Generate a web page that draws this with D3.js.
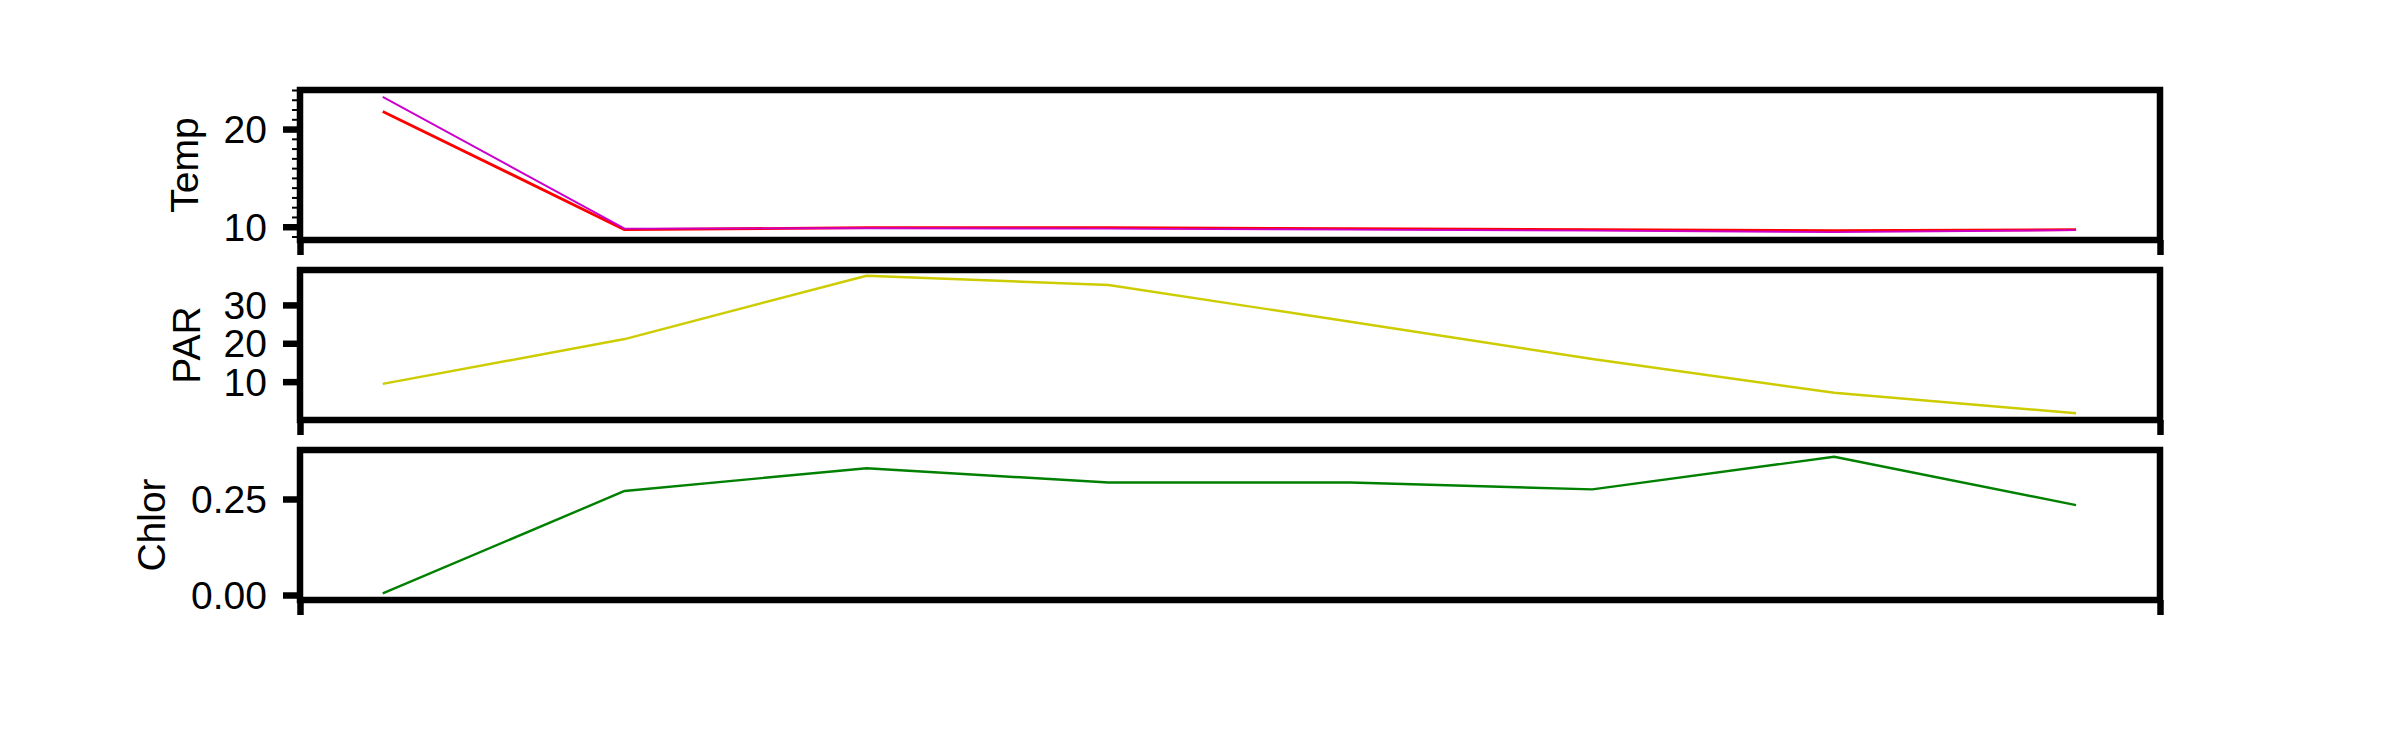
<!DOCTYPE html>
<html>
<head>
<meta charset="utf-8">
<script src="https://cdn.jsdelivr.net/npm/d3@7"></script>
<style>
  html, body { margin: 0; padding: 0; background: #fff; }
  svg { display: block; }
  text { font-family: "Liberation Sans", Arial, sans-serif; fill: #000; }
</style>
</head>
<body>
<svg id="chart" width="2400" height="750"></svg>
<script>
// ---- data ----
const stations = [1, 2, 3, 4, 5, 6, 7, 8];
const tempA = [21.8, 9.7, 9.9, 9.9, 9.8, 9.7, 9.6, 9.7];     // red
const tempB = [23.3, 9.8, 9.85, 9.8, 9.7, 9.6, 9.45, 9.65];  // magenta
const par = [9.4, 21.1, 37.6, 35.2, 25.6, 15.9, 7.1, 1.75];
const chlor = [0.004, 0.271, 0.33, 0.293, 0.293, 0.275, 0.36, 0.234];
const tempTicks = [10, 20];
const tempMinorTicks = [9, 11, 12, 13, 14, 15, 16, 17, 18, 19, 21, 22, 23, 24];
const parTicks = [10, 20, 30];
const chlorTicks = [0.00, 0.25];
const chlorTickLabels = ["0.00", "0.25"];

// ---- layout ----
const svg = d3.select("#chart");
const left = 300, right = 2160;
const x = d3.scaleLinear().domain([0.658, 8.347]).range([left, right]);

const panels = [
  { top: 90, bottom: 240, domain: [8.64, 24.0], label: "Temp", labelX: 198,
    ticks: tempTicks, fmt: d => String(d), minor: tempMinorTicks,
    series: [{ v: tempA, color: "#ff0000", w: 2.8 }, { v: tempB, color: "#cc00cc", w: 1.9 }] },
  { top: 270, bottom: 420, domain: [0, 39.1], label: "PAR", labelX: 200,
    ticks: parTicks, fmt: d => String(d), minor: null,
    series: [{ v: par, color: "#cccc00", w: 2.4 }] },
  { top: 450, bottom: 600, domain: [-0.013, 0.3776], label: "Chlor", labelX: 165,
    ticks: chlorTicks, fmt: (d, i) => chlorTickLabels[i], minor: null,
    series: [{ v: chlor, color: "#008000", w: 2.4 }] }
];

const FS = 39;
const thick = 6.5;

panels.forEach(p => {
  const y = d3.scaleLinear().domain(p.domain).range([p.bottom, p.top]);
  const g = svg.append("g");

  // series lines
  p.series.forEach(s => {
    const line = d3.line().x((d, i) => x(stations[i])).y(d => y(d));
    g.append("path").datum(s.v)
      .attr("d", line)
      .attr("fill", "none")
      .attr("stroke", s.color)
      .attr("stroke-width", s.w)
      .attr("stroke-linejoin", "round");
  });

  // minor ticks
  if (p.minor) {
    const mg = g.append("g").attr("transform", `translate(${left},0)`)
      .call(d3.axisLeft(y).tickValues(p.minor).tickSize(8).tickSizeOuter(0).tickFormat(""));
    mg.select(".domain").remove();
    mg.selectAll(".tick line").attr("stroke", "#000").attr("stroke-width", 2);
  }

  // major y axis
  const ya = g.append("g").attr("transform", `translate(${left},0)`)
    .call(d3.axisLeft(y).tickValues(p.ticks).tickSize(17).tickSizeOuter(0).tickPadding(16)
      .tickFormat(p.fmt));
  ya.select(".domain").remove();
  ya.selectAll(".tick line").attr("stroke", "#000").attr("stroke-width", thick);
  ya.selectAll(".tick text")
    .attr("font-size", FS)
    .attr("font-family", "'Liberation Sans', Arial, sans-serif")
    .attr("fill", "#000")
    .attr("dy", "0.35em");

  // x axis ticks at ends (no labels)
  const xa = g.append("g").attr("transform", `translate(0,${p.bottom})`)
    .call(d3.axisBottom(x).tickValues(x.domain()).tickSize(15).tickSizeOuter(0).tickFormat(""));
  xa.select(".domain").remove();
  xa.selectAll(".tick line").attr("stroke", "#000").attr("stroke-width", thick);

  // frame
  g.append("rect")
    .attr("x", left).attr("y", p.top)
    .attr("width", right - left).attr("height", p.bottom - p.top)
    .attr("fill", "none").attr("stroke", "#000").attr("stroke-width", thick);

  // y label
  g.append("text")
    .attr("transform", `translate(${p.labelX},${(p.top + p.bottom) / 2}) rotate(-90)`)
    .attr("text-anchor", "middle")
    .attr("font-size", FS)
    .text(p.label);
});
</script>
</body>
</html>
